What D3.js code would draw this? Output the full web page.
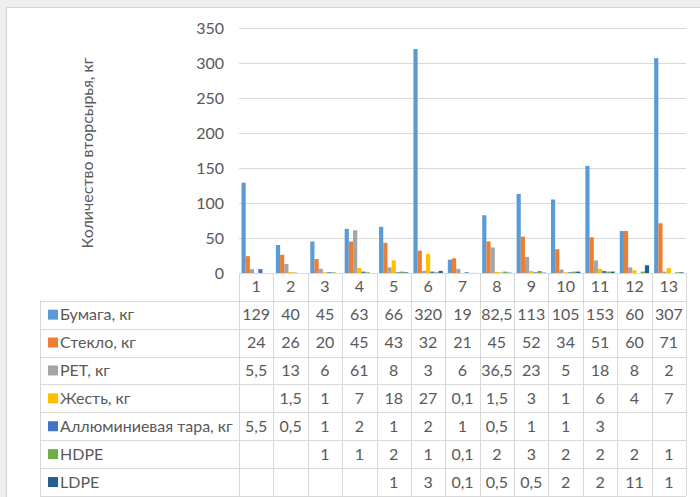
<!DOCTYPE html>
<html>
<head>
<meta charset="utf-8">
<script src="https://cdn.jsdelivr.net/npm/d3@7"></script>
<style>
  body { margin: 0; background: #efefef; }
  svg { display: block; font-family: Lato, "Open Sans", sans-serif; }
</style>
</head>
<body>
<div id="chart"></div>
<script>
// data
var categories = ["1", "2", "3", "4", "5", "6", "7", "8", "9", "10", "11", "12", "13"];
var seriesNames = ["Бумага, кг", "Стекло, кг", "PET, кг", "Жесть, кг", "Аллюминиевая тара, кг", "HDPE", "LDPE"];
var seriesColors = ["#5b9bd5", "#ed7d31", "#a5a5a5", "#ffc000", "#4472c4", "#70ad47", "#255e91"];

var paper = [129, 40, 45, 63, 66, 320, 19, 82.5, 113, 105, 153, 60, 307];
var glass = [24, 26, 20, 45, 43, 32, 21, 45, 52, 34, 51, 60, 71];
var pet = [5.5, 13, 6, 61, 8, 3, 6, 36.5, 23, 5, 18, 8, 2];
var tin = [null, 1.5, 1, 7, 18, 27, 0.1, 1.5, 3, 1, 6, 4, 7];
var alu = [5.5, 0.5, 1, 2, 1, 2, 1, 0.5, 1, 1, 3, null, null];
var hdpe = [null, null, 1, 1, 2, 1, 0.1, 2, 3, 2, 2, 2, 1];
var ldpe = [null, null, null, null, 1, 3, 0.1, 0.5, 0.5, 2, 2, 11, 1];

var yTicks = [0, 50, 100, 150, 200, 250, 300, 350];
var yTitle = "Количество вторсырья, кг";

var seriesValues = [paper, glass, pet, tin, alu, hdpe, ldpe];

var svgWidth = 700
var svgHeight = 497

var plot = { left: 239, right: 686, top: 28, bottom: 273 };
var tableLeft = 40;
var headerBottom = 300.7;
var rowH = (496 - headerBottom) / seriesNames.length;
var gridColor = "#d9d9d9";
var textColor = "#595959";
var fontSize = "16px";

var ru = d3.formatLocale({ decimal: ",", thousands: " ", grouping: [3], currency: ["", ""] });
var fmt = ru.format("~g");

var svg = d3.select("#chart")
  .append("svg")
  .attr("width", svgWidth)
  .attr("height", svgHeight);

// chart frame
svg.append("rect")
  .attr("x", 6.5)
  .attr("y", 7.5)
  .attr("width", svgWidth)
  .attr("height", svgHeight)
  .attr("fill", "#ffffff")
  .attr("stroke", "#d4d4d4");

// scales
var xScale = d3.scaleBand()
  .domain(categories)
  .range([plot.left, plot.right])
  .padding(0);

var xInner = d3.scaleBand()
  .domain(d3.range(seriesNames.length))
  .range([0, xScale.bandwidth()])
  .paddingInner(0)
  .paddingOuter(0.6);

var yScale = d3.scaleLinear()
  .domain([0, 350])
  .range([plot.bottom, plot.top]);

// gridlines + y labels
var leftAxis = d3.axisLeft(yScale)
  .tickValues(yTicks)
  .tickSize(-(plot.right - plot.left))
  .tickPadding(15);

var yAxisG = svg.append("g")
  .attr("transform", `translate(${plot.left}, 0)`)
  .call(leftAxis);
yAxisG.select(".domain").remove();
yAxisG.selectAll(".tick line").attr("stroke", gridColor);
yAxisG.selectAll(".tick text")
  .attr("fill", textColor)
  .style("font-size", fontSize)
  .style("font-family", "Lato, 'Open Sans', sans-serif");

// y title
svg.append("text")
  .attr("transform", "rotate(-90)")
  .attr("x", -153)
  .attr("y", 87)
  .attr("dy", "0.35em")
  .style("text-anchor", "middle")
  .style("font-size", fontSize)
  .attr("fill", textColor)
  .text(yTitle);

// bars
var barData = [];
seriesValues.forEach(function(vals, s) {
  vals.forEach(function(v, i) {
    if (v != null) barData.push({ s: s, cat: categories[i], v: v });
  });
});

svg.append("g").selectAll("rect")
  .data(barData)
  .enter()
  .append("rect")
  .attr("x", d => xScale(d.cat) + xInner(d.s))
  .attr("width", xInner.bandwidth())
  .attr("y", d => yScale(d.v))
  .attr("height", d => yScale(0) - yScale(d.v))
  .attr("fill", d => seriesColors[d.s]);

// data table
var table = svg.append("g");
var lineAttr = function(sel) { return sel.attr("stroke", gridColor).attr("stroke-width", 1); };

// axis line at zero
table.append("line").call(lineAttr)
  .attr("x1", plot.left).attr("x2", plot.right)
  .attr("y1", yScale(0) + 0.5).attr("y2", yScale(0) + 0.5);

// column lines
categories.concat(["end"]).forEach(function(c, i) {
  var x = i < categories.length ? xScale(c) : plot.right;
  table.append("line").call(lineAttr)
    .attr("x1", Math.round(x) + 0.5).attr("x2", Math.round(x) + 0.5)
    .attr("y1", plot.bottom).attr("y2", 496);
});

// row lines
d3.range(seriesNames.length + 1).forEach(function(r) {
  var y = Math.round(headerBottom + r * rowH) + 0.5;
  table.append("line").call(lineAttr)
    .attr("x1", tableLeft).attr("x2", plot.right)
    .attr("y1", y).attr("y2", y);
});
table.append("line").call(lineAttr)
  .attr("x1", tableLeft + 0.5).attr("x2", tableLeft + 0.5)
  .attr("y1", headerBottom).attr("y2", 496);

// category labels
table.selectAll(".cat")
  .data(categories)
  .enter()
  .append("text")
  .attr("x", d => xScale(d) + xScale.bandwidth() / 2)
  .attr("y", (plot.bottom + headerBottom) / 2)
  .attr("dy", "0.35em")
  .style("text-anchor", "middle")
  .style("font-size", fontSize)
  .attr("fill", textColor)
  .text(d => d);

// legend keys + names
seriesNames.forEach(function(name, s) {
  var cy = headerBottom + (s + 0.5) * rowH;
  table.append("rect")
    .attr("x", 48)
    .attr("y", cy - 5)
    .attr("width", 10)
    .attr("height", 10)
    .attr("fill", seriesColors[s]);
  table.append("text")
    .attr("x", 60)
    .attr("y", cy)
    .attr("dy", "0.35em")
    .style("font-size", fontSize)
    .attr("fill", textColor)
    .text(name);

  seriesValues[s].forEach(function(v, i) {
    if (v == null) return;
    table.append("text")
      .attr("x", xScale(categories[i]) + xScale.bandwidth() / 2)
      .attr("y", cy)
      .attr("dy", "0.35em")
      .style("text-anchor", "middle")
      .style("font-size", fontSize)
      .attr("fill", textColor)
      .text(fmt(v));
  });
});
</script>
</body>
</html>
